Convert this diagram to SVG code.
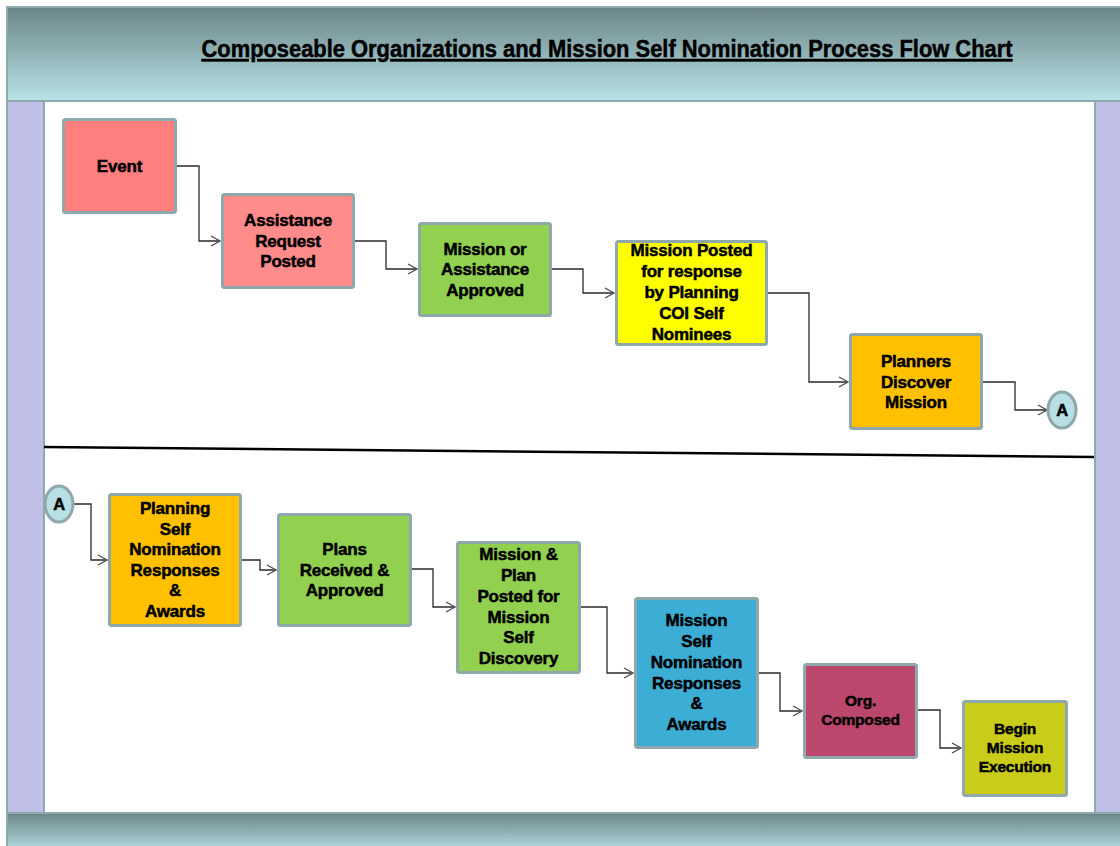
<svg xmlns="http://www.w3.org/2000/svg" width="1120" height="846" viewBox="0 0 1120 846">
<defs>
<linearGradient id="hdr" x1="0" y1="0" x2="0" y2="1">
<stop offset="0" stop-color="#6b8587"/>
<stop offset="1" stop-color="#b8e3e7"/>
</linearGradient>
<marker id="arr" markerWidth="12" markerHeight="12" refX="10" refY="6" orient="auto" markerUnits="userSpaceOnUse">
<path d="M1,1 L10,6 L1,11" fill="none" stroke="#505050" stroke-width="1.4"/>
</marker>
<style>
.box{stroke:#8fa8ab;stroke-width:3}
.lbl{font-family:"Liberation Sans",Arial,sans-serif;font-weight:bold;font-size:17px;fill:#000;stroke:#000;stroke-width:0.5px;text-anchor:middle;letter-spacing:-0.2px}
.sm{font-size:15.5px}
.con{fill:none;stroke:#2a2a2a;stroke-width:1.3;marker-end:url(#arr)}
.conn{fill:#b7dfe4;stroke:#8fa8ab;stroke-width:3}
</style>
</defs>
<rect x="0" y="0" width="1120" height="846" fill="#ffffff"/>
<!-- frame -->
<rect x="7" y="7" width="1120" height="94" fill="url(#hdr)" stroke="#8fa8ab" stroke-width="2"/>
<rect x="7" y="101" width="37" height="712" fill="#c0bfe7" stroke="#8fa8ab" stroke-width="2"/>
<rect x="1095" y="101" width="30" height="712" fill="#c0bfe7" stroke="#8fa8ab" stroke-width="2"/>
<rect x="7" y="813" width="1120" height="40" fill="url(#hdr)" stroke="#8fa8ab" stroke-width="2"/>
<text x="607" y="57" font-family="'Liberation Sans',Arial,sans-serif" font-weight="bold" font-size="23.5" stroke="#000" stroke-width="0.5" text-anchor="middle" text-decoration="underline" textLength="811" lengthAdjust="spacingAndGlyphs">Composeable Organizations and Mission Self Nomination Process Flow Chart</text>
<line x1="44" y1="447" x2="1094" y2="457" stroke="#000" stroke-width="2.5"/>

<g id="connectors">
<path class="con" d="M177,166 H199 V241 H220"/>
<path class="con" d="M355,241 H386 V269 H417"/>
<path class="con" d="M552,269 H583 V293 H614"/>
<path class="con" d="M768,293 H809 V382 H848"/>
<path class="con" d="M983,382 H1015 V410 H1047"/>
<path class="con" d="M73,504 H91 V560 H107"/>
<path class="con" d="M242,560 H260 V570 H276"/>
<path class="con" d="M412,569 H433 V607 H455"/>
<path class="con" d="M581,607 H607 V673 H633"/>
<path class="con" d="M759,673 H780 V711 H802"/>
<path class="con" d="M918,710 H940 V748 H961"/>
</g>

<g id="event">
<rect class="box" x="63.5" y="119.5" width="112" height="93" rx="2" fill="#ff7f7f"/>
<text class="lbl" x="119.5" y="172">Event</text>
</g>
<g id="assistance-request">
<rect class="box" x="222.5" y="194.5" width="131" height="93" rx="2" fill="#ff8b8b"/>
<text class="lbl" x="288" y="226">Assistance</text>
<text class="lbl" x="288" y="247">Request</text>
<text class="lbl" x="288" y="267">Posted</text>
</g>
<g id="mission-approved">
<rect class="box" x="419.5" y="223.5" width="131" height="92" rx="2" fill="#92d050"/>
<text class="lbl" x="485" y="255">Mission or</text>
<text class="lbl" x="485" y="275">Assistance</text>
<text class="lbl" x="485" y="296">Approved</text>
</g>
<g id="mission-posted">
<rect class="box" x="616.5" y="241.5" width="150" height="103" rx="2" fill="#ffff00"/>
<text class="lbl" x="691.5" y="256">Mission Posted</text>
<text class="lbl" x="691.5" y="277">for response</text>
<text class="lbl" x="691.5" y="298">by Planning</text>
<text class="lbl" x="691.5" y="319">COI Self</text>
<text class="lbl" x="691.5" y="340">Nominees</text>
</g>
<g id="planners-discover">
<rect class="box" x="850.5" y="334.5" width="131" height="94" rx="2" fill="#ffc000"/>
<text class="lbl" x="916" y="367">Planners</text>
<text class="lbl" x="916" y="388">Discover</text>
<text class="lbl" x="916" y="408">Mission</text>
</g>
<g id="connector-a-top">
<ellipse class="conn" cx="1062" cy="410" rx="14" ry="18"/>
<text class="lbl" x="1062" y="416" style="font-size:16.5px">A</text>
</g>
<g id="connector-a-bottom">
<ellipse class="conn" cx="59" cy="504" rx="14" ry="18"/>
<text class="lbl" x="59" y="510" style="font-size:16.5px">A</text>
</g>
<g id="planning-self-nomination">
<rect class="box" x="109.5" y="494.5" width="131" height="131" rx="2" fill="#ffc000"/>
<text class="lbl" x="175" y="514">Planning</text>
<text class="lbl" x="175" y="535">Self</text>
<text class="lbl" x="175" y="555">Nomination</text>
<text class="lbl" x="175" y="576">Responses</text>
<text class="lbl" x="175" y="596">&amp;</text>
<text class="lbl" x="175" y="617">Awards</text>
</g>
<g id="plans-received">
<rect class="box" x="278.5" y="514.5" width="132" height="111" rx="2" fill="#92d050"/>
<text class="lbl" x="344.5" y="555">Plans</text>
<text class="lbl" x="344.5" y="576">Received &amp;</text>
<text class="lbl" x="344.5" y="596">Approved</text>
</g>
<g id="mission-plan-posted">
<rect class="box" x="457.5" y="542.5" width="122" height="130" rx="2" fill="#92d050"/>
<text class="lbl" x="518.5" y="560">Mission &amp;</text>
<text class="lbl" x="518.5" y="581">Plan</text>
<text class="lbl" x="518.5" y="602">Posted for</text>
<text class="lbl" x="518.5" y="623">Mission</text>
<text class="lbl" x="518.5" y="643">Self</text>
<text class="lbl" x="518.5" y="664">Discovery</text>
</g>
<g id="mission-self-nomination">
<rect class="box" x="635.5" y="598.5" width="122" height="149" rx="2" fill="#3caed6"/>
<text class="lbl" x="696.5" y="626">Mission</text>
<text class="lbl" x="696.5" y="647">Self</text>
<text class="lbl" x="696.5" y="668">Nomination</text>
<text class="lbl" x="696.5" y="689">Responses</text>
<text class="lbl" x="696.5" y="709">&amp;</text>
<text class="lbl" x="696.5" y="730">Awards</text>
</g>
<g id="org-composed">
<rect class="box" x="804.5" y="664.5" width="112" height="93" rx="2" fill="#bc476c"/>
<text class="lbl sm" x="860.5" y="706">Org.</text>
<text class="lbl sm" x="860.5" y="725">Composed</text>
</g>
<g id="begin-mission">
<rect class="box" x="963.5" y="701.5" width="103" height="94" rx="2" fill="#c9cc18"/>
<text class="lbl sm" x="1015" y="734">Begin</text>
<text class="lbl sm" x="1015" y="753">Mission</text>
<text class="lbl sm" x="1015" y="772">Execution</text>
</g>
</svg>
